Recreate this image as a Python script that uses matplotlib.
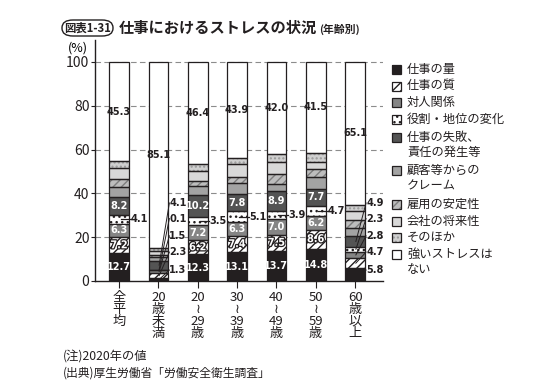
import matplotlib
matplotlib.use("Agg")
import matplotlib.pyplot as plt
import matplotlib.patheffects as pe
from matplotlib.patches import Rectangle, FancyBboxPatch
import numpy as np

plt.rcParams['font.family'] = ['Noto Sans CJK JP', 'DejaVu Sans']
plt.rcParams['hatch.linewidth'] = 1.0

# ---------------- data ----------------
groups = ["全\n平\n均", "20\n歳\n未\n満", "20\n≀\n29\n歳", "30\n≀\n39\n歳",
          "40\n≀\n49\n歳", "50\n≀\n59\n歳", "60\n歳\n以\n上"]
categories = ["仕事の量", "仕事の質", "対人関係", "役割・地位の変化",
              "仕事の失敗、\n責任の発生等", "顧客等からの\nクレーム", "雇用の安定性",
              "会社の将来性", "そのほか", "強いストレスは\nない"]

work_amount   = [12.7, 1.3, 12.3, 13.1, 13.7, 14.8, 5.8]
work_quality  = [7.2, 2.3, 6.2, 7.4, 7.5, 8.6, 4.7]
relations     = [6.3, 1.5, 7.2, 6.3, 7.0, 6.2, 2.8]
role_change   = [4.1, 0.1, 3.5, 5.1, 3.9, 4.7, 2.3]
failure       = [8.2, 4.1, 10.2, 7.8, 8.9, 7.7, 4.9]
complaints    = [4.6, 1.7, 4.1, 4.9, 3.4, 5.3, 3.5]
job_security  = [3.3, 1.0, 2.0, 3.0, 4.4, 3.8, 3.8]
company_future = [5.0, 1.7, 4.5, 5.6, 5.5, 3.2, 4.1]
other         = [3.3, 1.2, 3.6, 2.9, 3.7, 4.2, 3.0]
no_stress     = [45.3, 85.1, 46.4, 43.9, 42.0, 41.5, 65.1]

series = [work_amount, work_quality, relations, role_change, failure,
          complaints, job_security, company_future, other, no_stress]

labelled = [0, 1, 2, 3, 4, 9]

# ---------------- styles ----------------
styles = [
    dict(fc="#231f20", hatch=None, hc=None),
    dict(fc="white", hatch="////", hc="#231f20"),
    dict(fc="#858585", hatch=None, hc=None),
    dict(fc="white", hatch="...", hc="#231f20"),
    dict(fc="#545454", hatch=None, hc=None),
    dict(fc="#a3a3a3", hatch=None, hc=None),
    dict(fc="#bdbdbd", hatch="////", hc="#7d7d7d"),
    dict(fc="#d8d8d8", hatch=None, hc=None),
    dict(fc="#cfcfcf", hatch="....", hc="#9a9a9a"),
    dict(fc="white", hatch=None, hc=None),
]

W, H = 548, 389
fig = plt.figure(figsize=(W / 100, H / 100), dpi=100)
ax = fig.add_axes([95 / W, (H - 281) / H, (383 - 95) / W, (281 - 40) / H])

x = np.arange(len(groups))
bw = 0.5
bottom = np.zeros(len(groups))
for vals, st in zip(series, styles):
    vals = np.array(vals)
    if st["hatch"]:
        ax.bar(x, vals, bw, bottom=bottom, color=st["fc"], hatch=st["hatch"],
               edgecolor=st["hc"], linewidth=0, zorder=3)
    else:
        ax.bar(x, vals, bw, bottom=bottom, color=st["fc"], linewidth=0, zorder=3)
    ax.bar(x, vals, bw, bottom=bottom, fill=False, edgecolor="#231f20",
           linewidth=0.9, zorder=4)
    bottom += vals

ax.set_xlim(-0.61, 6.71)
ax.set_ylim(0, 110)
ax.set_yticks([0, 20, 40, 60, 80, 100])
ax.tick_params(axis="y", labelsize=10, length=3, width=0.8, pad=1, colors="#231f20")
ax.set_xticks(x)
ax.set_xticklabels(groups, fontsize=9.5, linespacing=0.92, va="top")
ax.tick_params(axis="x", length=5, width=0.8, pad=2, colors="#231f20")
for s in ["top", "right"]:
    ax.spines[s].set_visible(False)
for s in ["left", "bottom"]:
    ax.spines[s].set_linewidth(1.0)
    ax.spines[s].set_color("#231f20")
for yv in [20, 40, 60, 80, 100]:
    ax.axhline(yv, color="#8c8c8c", lw=0.8, ls=(0, (5, 3)), zorder=1)
fig.text(88 / W, (H - 48) / H, "(%)", fontsize=9, ha="right", va="center")

numfont = dict(family=["DejaVu Sans"], fontstretch="condensed", fontsize=7.8,
               fontweight="bold")
stroke = [pe.withStroke(linewidth=1.8, foreground="#231f20")]

cum = np.cumsum(np.array(series), axis=0)
starts = cum - np.array(series)

leader_groups = [1, 6]
leader_label_y = [5.0, 13.2, 20.6, 28.5, 35.6]

for gi in range(len(groups)):
    if gi in leader_groups:
        for k, si in enumerate([0, 1, 2, 3, 4]):
            v = series[si][gi]
            mid = starts[si][gi] + v / 2
            ly = leader_label_y[k]
            ax.plot([gi + 0.02, gi + 0.28], [mid, ly], color="#231f20",
                    lw=0.7, zorder=6)
            ax.text(gi + 0.28, ly, f"{v:.1f}", ha="left", va="center",
                    color="#231f20", zorder=7, **numfont)
        v = series[9][gi]
        ax.text(gi, starts[9][gi] + v / 2, f"{v:.1f}", ha="center", va="center",
                color="#231f20", zorder=7, **numfont)
        continue
    for si in labelled:
        v = series[si][gi]
        mid = starts[si][gi] + v / 2
        if si == 3:
            ax.plot([gi + 0.05, gi + 0.30], [mid, mid], color="#231f20",
                    lw=0.9, zorder=6)
            ax.text(gi + 0.30, mid, f"{v:.1f}", ha="left", va="center",
                    color="#231f20", zorder=7, **numfont)
        elif si == 9:
            ax.text(gi, mid, f"{v:.1f}", ha="center", va="center",
                    color="#231f20", zorder=7, **numfont)
        elif si == 1:
            ax.text(gi, mid, f"{v:.1f}", ha="center", va="center",
                    color="white", zorder=7, path_effects=stroke, **numfont)
        else:
            ax.text(gi, mid, f"{v:.1f}", ha="center", va="center",
                    color="white", zorder=7, **numfont)

# ---------------- legend ----------------
leg_y = [69, 86, 102, 119, 146, 179, 204, 221, 237, 263]
for cat, st, ly in zip(categories, styles, leg_y):
    nlines = cat.count("\n") + 1
    by = ly - (nlines - 1) * 8.5
    rx, ry = 392 / W, (H - by - 4.5) / H
    fig.patches.append(Rectangle((rx, ry), 9 / W, 9 / H, transform=fig.transFigure,
                                 facecolor=st["fc"], edgecolor=st["hc"] or "#231f20",
                                 hatch=st["hatch"], linewidth=0))
    fig.patches.append(Rectangle((rx, ry), 9 / W, 9 / H, transform=fig.transFigure,
                                 fill=False, edgecolor="#231f20", linewidth=0.9))
    fig.text(407 / W, (H - by + 6.5) / H, cat, fontsize=8.8, ha="left", va="top",
             linespacing=1.2, color="#231f20")

# ---------------- title & notes ----------------
tb = FancyBboxPatch((62 / W, (H - 36) / H), 51 / W, 16 / H,
                    boxstyle="round,pad=0,rounding_size=0.02",
                    transform=fig.transFigure, fill=False, edgecolor="#231f20",
                    linewidth=1.0)
fig.patches.append(tb)
fig.text(87.5 / W, (H - 28) / H, "図表1-31", fontsize=8.2, fontweight="bold",
         ha="center", va="center", color="#231f20")
title = fig.text(119 / W, (H - 28) / H, "仕事におけるストレスの状況", fontsize=11.0,
                 fontweight="bold", ha="left", va="center", color="#231f20")
fig.canvas.draw()
bb = title.get_window_extent(fig.canvas.get_renderer())
fig.text(bb.x1 / W + 2 / W, (H - 29) / H, "(年齢別)", fontsize=7.8, fontweight="bold",
         ha="left", va="center", color="#231f20")
fig.text(63 / W, (H - 356) / H, "(注)2020年の値", fontsize=8.8, ha="left",
         va="center", color="#231f20")
fig.text(63 / W, (H - 373) / H, "(出典)厚生労働省「労働安全衛生調査」", fontsize=8.5,
         ha="left", va="center", color="#231f20")

fig.savefig("out.png", dpi=100, facecolor="white")
